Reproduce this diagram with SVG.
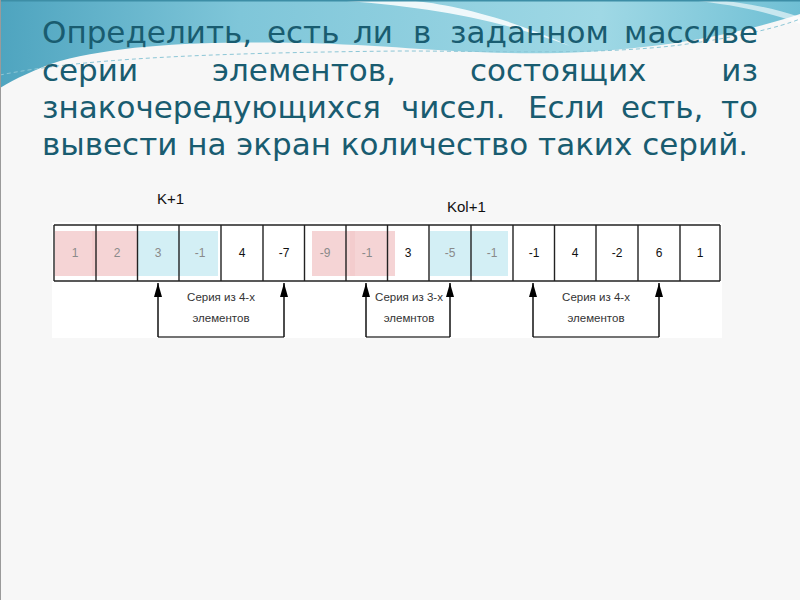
<svg xmlns="http://www.w3.org/2000/svg" width="800" height="600" viewBox="0 0 800 600">
  <defs>
    <linearGradient id="wave" gradientUnits="userSpaceOnUse" x1="0" y1="0" x2="800" y2="40">
      <stop offset="0" stop-color="#4ea4bf"/>
      <stop offset="0.3" stop-color="#7fc6d9"/>
      <stop offset="0.75" stop-color="#9fd8e5"/>
      <stop offset="1" stop-color="#6fbfd4"/>
    </linearGradient>
    <marker id="ah" viewBox="0 0 14 8" refX="14" refY="4" markerWidth="14" markerHeight="8" markerUnits="userSpaceOnUse" orient="auto">
      <path d="M0,0 L14,4 L0,8 Z" fill="#000"/>
    </marker>
    <style>
      .title { font-family: "DejaVu Sans", Verdana, sans-serif; font-size: 31px; fill: #195c70; }
      .cell { fill: none; stroke: #222; stroke-width: 1.4; }
      .num { font-family: "Liberation Sans", Arial, sans-serif; font-size: 12px; text-anchor: middle; fill: #111; }
      .dim { fill: #8a8a8a; }
      .pink { fill: #f3c9cb; opacity: 0.8; }
      .cyan { fill: #d3eff5; }
      .cap { font-family: "Liberation Sans", Arial, sans-serif; font-size: 11.5px; text-anchor: middle; fill: #333; }
      .lbl { font-family: "Liberation Sans", Arial, sans-serif; font-size: 15px; fill: #111; }
      .conn { stroke: #111; stroke-width: 1.5; fill: none; }
      .base { stroke: #444; stroke-width: 1.3; fill: none; }
    </style>
  </defs>

  <!-- background -->
  <rect x="0" y="0" width="800" height="600" fill="#f7f7f7"/>
  <path d="M0,0 L800,0 L800,14 C 740,34 660,50 560,53 C 460,55 400,45 300,43 C 200,41 120,45 60,61 C 35,69 15,79 0,88 Z" fill="url(#wave)"/>
  <path d="M330,0 C 430,6 500,20 570,46 C 505,16 445,3 405,0 Z" fill="#ffffff" opacity="0.85"/>
  <path d="M690,0 C 735,5 770,12 800,24 L800,17 C 770,7 740,2 715,0 Z" fill="#ffffff" opacity="0.6"/>
  <path d="M0,75 C 80,59 200,53 400,51 C 500,51 600,55 680,45 C 740,37 780,27 800,19" fill="none" stroke="#8cc6d6" stroke-width="1" stroke-dasharray="4,3"/>
  <rect x="0" y="0" width="800" height="1.5" fill="#3d8ea6"/>
  <line x1="0.5" y1="0" x2="0.5" y2="600" stroke="#9a9a9a" stroke-width="1"/>

  <!-- title -->
  <g id="title" class="title">
    <text x="42" y="43">Определить,</text>
    <text x="267" y="43">есть</text>
    <text x="353" y="43">ли</text>
    <text x="413" y="43">в</text>
    <text x="450" y="43">заданном</text>
    <text x="758" y="43" text-anchor="end">массиве</text>
    <text x="42" y="81">серии</text>
    <text x="212" y="81">элементов,</text>
    <text x="470" y="81">состоящих</text>
    <text x="758" y="81" text-anchor="end">из</text>
    <text x="42" y="118">знакочередующихся</text>
    <text x="401" y="118">чисел.</text>
    <text x="528" y="118">Если</text>
    <text x="621" y="118">есть,</text>
    <text x="758" y="118" text-anchor="end">то</text>
    <text x="42" y="155">вывести на экран количество таких серий.</text>
  </g>

  <!-- labels -->
  <g id="label-k"><text class="lbl" x="157" y="204">K+1</text></g>
  <g id="label-kol"><text class="lbl" x="447" y="212">Kol+1</text></g>

  <!-- array panel -->
  <g id="array">
    <rect x="52" y="222" width="670" height="116" fill="#ffffff"/>
    <rect class="pink" x="55" y="231" width="42" height="45"/>
    <rect class="pink" x="92" y="231" width="45" height="45"/>
    <rect class="cyan" x="138" y="231" width="80" height="45"/>
    <rect class="pink" x="312" y="231" width="43" height="45"/>
    <rect class="pink" x="350" y="231" width="45" height="45"/>
    <rect class="cyan" x="430" y="231" width="78" height="45"/>

    <g id="cells">
      <line class="cell" x1="54" y1="225" x2="720" y2="225"/>
      <line class="cell" x1="54" y1="281" x2="720" y2="281"/>
      <line class="cell" x1="54" y1="225" x2="54" y2="281"/>
      <line class="cell" x1="96" y1="225" x2="96" y2="281"/>
      <line class="cell" x1="137.5" y1="225" x2="137.5" y2="281"/>
      <line class="cell" x1="179" y1="225" x2="179" y2="281"/>
      <line class="cell" x1="221" y1="225" x2="221" y2="281"/>
      <line class="cell" x1="263" y1="225" x2="263" y2="281"/>
      <line class="cell" x1="304.5" y1="225" x2="304.5" y2="281"/>
      <line class="cell" x1="346" y1="225" x2="346" y2="281"/>
      <line class="cell" x1="387.5" y1="225" x2="387.5" y2="281"/>
      <line class="cell" x1="429" y1="225" x2="429" y2="281"/>
      <line class="cell" x1="471" y1="225" x2="471" y2="281"/>
      <line class="cell" x1="513" y1="225" x2="513" y2="281"/>
      <line class="cell" x1="554.5" y1="225" x2="554.5" y2="281"/>
      <line class="cell" x1="596" y1="225" x2="596" y2="281"/>
      <line class="cell" x1="638" y1="225" x2="638" y2="281"/>
      <line class="cell" x1="680" y1="225" x2="680" y2="281"/>
      <line class="cell" x1="720" y1="225" x2="720" y2="281"/>
    </g>
    <g id="values">
      <text class="num dim" x="75" y="257">1</text>
      <text class="num dim" x="117" y="257">2</text>
      <text class="num dim" x="158" y="257">3</text>
      <text class="num dim" x="200" y="257">-1</text>
      <text class="num" x="242" y="257">4</text>
      <text class="num" x="284" y="257">-7</text>
      <text class="num dim" x="325" y="257">-9</text>
      <text class="num dim" x="367" y="257">-1</text>
      <text class="num" x="408" y="257">3</text>
      <text class="num dim" x="450" y="257">-5</text>
      <text class="num dim" x="492" y="257">-1</text>
      <text class="num" x="534" y="257">-1</text>
      <text class="num" x="575" y="257">4</text>
      <text class="num" x="617" y="257">-2</text>
      <text class="num" x="659" y="257">6</text>
      <text class="num" x="700" y="257">1</text>
    </g>
  </g>

  <!-- series captions -->
  <g id="series1">
    <text class="cap" x="221" y="301">Серия из 4-х</text>
    <text class="cap" x="221" y="322">элементов</text>
  </g>
  <g id="series2">
    <text class="cap" x="409" y="301">Серия из 3-х</text>
    <text class="cap" x="409" y="322">элемнтов</text>
  </g>
  <g id="series3">
    <text class="cap" x="596" y="301">Серия из 4-х</text>
    <text class="cap" x="596" y="322">элементов</text>
  </g>

  <!-- connectors -->
  <g id="connectors">
    <path class="base" d="M158,337 H284"/>
    <path class="base" d="M366,337 H450"/>
    <path class="base" d="M533,337 H659"/>
    <line class="conn" x1="158" y1="337" x2="158" y2="283" marker-end="url(#ah)"/>
    <line class="conn" x1="284" y1="337" x2="284" y2="283" marker-end="url(#ah)"/>
    <line class="conn" x1="366" y1="337" x2="366" y2="283" marker-end="url(#ah)"/>
    <line class="conn" x1="450" y1="337" x2="450" y2="283" marker-end="url(#ah)"/>
    <line class="conn" x1="533" y1="337" x2="533" y2="283" marker-end="url(#ah)"/>
    <line class="conn" x1="659" y1="337" x2="659" y2="283" marker-end="url(#ah)"/>
  </g>
</svg>
